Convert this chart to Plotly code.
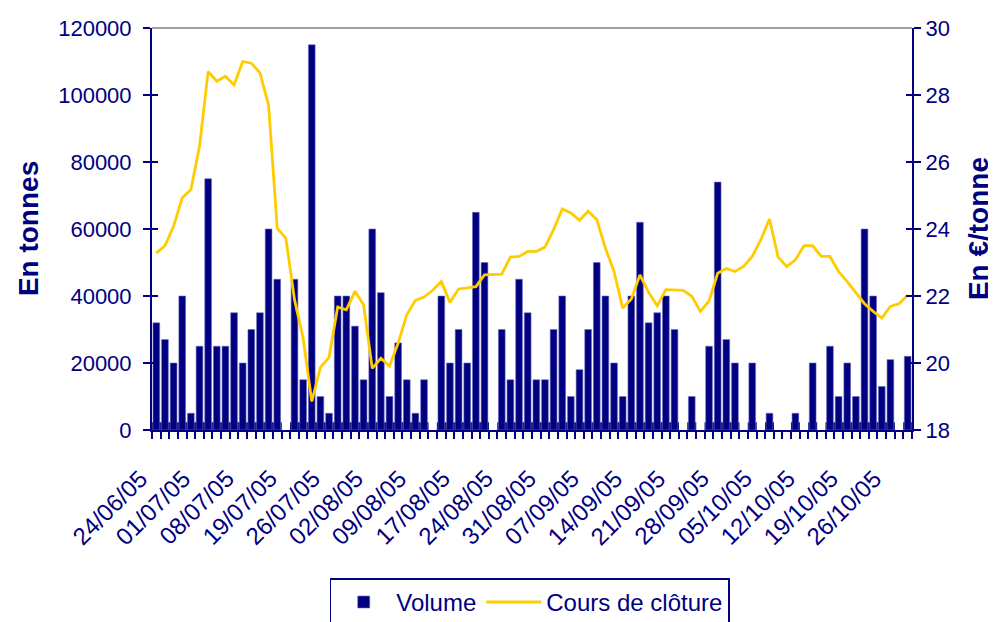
import plotly.graph_objects as go

# ---- data ----
volume = [32000, 27000, 20000, 40000, 5000, 25000, 75000, 25000, 25000, 35000,
          20000, 30000, 35000, 60000, 45000, None, 45000, 15000, 115000, 10000,
          5000, 40000, 40000, 31000, 15000, 60000, 41000, 10000, 26000, 15000,
          5000, 15000, None, 40000, 20000, 30000, 20000, 65000, 50000, None,
          30000, 15000, 45000, 35000, 15000, 15000, 30000, 40000, 10000, 18000,
          30000, 50000, 40000, 20000, 10000, 40000, 62000, 32000, 35000, 40000,
          30000, None, 10000, None, 25000, 74000, 27000, 20000, None, 20000,
          None, 5000, None, None, 5000, None, 20000, None, 25000, 10000,
          20000, 10000, 60000, 40000, 13000, 21000, None, 22000]

cours = [23.28, 23.50, 24.08, 24.93, 25.17, 26.47, 28.70, 28.41, 28.56, 28.30,
         29.00, 28.95, 28.66, 27.70, 24.02, 23.73, 21.89, 20.74, 18.85, 19.87,
         20.17, 21.67, 21.59, 22.14, 21.74, 19.84, 20.14, 19.91, 20.59, 21.44,
         21.87, 21.97, 22.17, 22.43, 21.81, 22.21, 22.24, 22.28, 22.63, 22.63,
         22.65, 23.16, 23.18, 23.33, 23.33, 23.46, 23.98, 24.60, 24.48, 24.26,
         24.53, 24.28, 23.43, 22.73, 21.64, 21.91, 22.63, 22.11, 21.71, 22.19,
         22.19, 22.17, 21.99, 21.54, 21.85, 22.68, 22.82, 22.73, 22.88, 23.18,
         23.68, 24.30, 23.16, 22.88, 23.08, 23.50, 23.50, 23.18, 23.18, 22.73,
         22.43, 22.11, 21.77, 21.54, 21.34, 21.69, 21.77, 22.02]

tick_labels = ["24/06/05", "01/07/05", "08/07/05", "19/07/05", "26/07/05", "02/08/05",
               "09/08/05", "17/08/05", "24/08/05", "31/08/05", "07/09/05", "14/09/05",
               "21/09/05", "28/09/05", "05/10/05", "12/10/05", "19/10/05", "26/10/05"]
label_step = 5

# ---- styling ----
NAVY = "#000080"
GOLD = "#FFCC00"
FONT = "Liberation Sans, Arial, sans-serif"
BASE_STUB = 2300      # dark foot drawn under each traded day
LABEL_SHIFT = -0.15   # rotated labels end slightly left of their day (in days)
LABEL_Y = -0.08       # top of the rotated labels' box, in plot fractions

days = list(range(len(volume)))
n_days = len(days)
label_days = days[::label_step][:len(tick_labels)]

fig = go.Figure()
fig.add_trace(go.Bar(x=days, y=[BASE_STUB if v is not None else None for v in volume],
                     width=1.04, marker=dict(color=NAVY, line=dict(width=0)),
                     showlegend=False, hoverinfo="skip", yaxis="y"))
fig.add_trace(go.Bar(x=days, y=volume, name="Volume", width=0.78,
                     marker=dict(color=NAVY, line=dict(width=0.6, color="#6f6fc0")),
                     yaxis="y"))
fig.add_trace(go.Scatter(x=days, y=cours, name="Cours de clôture", mode="lines",
                         line=dict(color=GOLD, width=2.8), yaxis="y2"))
# invisible traces to activate the overlay tick axes
fig.add_trace(go.Scatter(x=[0], y=[0], yaxis="y3", showlegend=False,
                         mode="markers", marker=dict(opacity=0), hoverinfo="skip"))
fig.add_trace(go.Scatter(x=[0], y=[18], yaxis="y4", showlegend=False,
                         mode="markers", marker=dict(opacity=0), hoverinfo="skip"))

tickfont = dict(family=FONT, size=22, color=NAVY)
xlabfont = dict(family=FONT, size=24, color=NAVY)
titlefont = dict(family=FONT, size=28, color=NAVY)

annotations = [
    dict(text="<b>En tonnes</b>", xref="paper", yref="paper", x=-0.163, y=0.5,
         textangle=-90, showarrow=False, font=titlefont,
         xanchor="center", yanchor="middle"),
    dict(text="<b>En €/tonne</b>", xref="paper", yref="paper", x=1.087, y=0.5,
         textangle=-90, showarrow=False, font=titlefont,
         xanchor="center", yanchor="middle"),
]
for d, lab in zip(label_days, tick_labels):
    annotations.append(dict(text=lab, x=(d + 0.5 + LABEL_SHIFT) / n_days, xref="paper",
                            y=LABEL_Y, yref="paper", textangle=-45, showarrow=False,
                            font=xlabfont, xanchor="right", yanchor="top"))

# the page body adds an 8px offset, so the figure is 8px smaller than the window
fig.update_layout(
    width=988, height=614,
    margin=dict(l=144, r=84, t=20, b=192),
    paper_bgcolor="white", plot_bgcolor="white",
    barmode="overlay",
    showlegend=True,
    legend=dict(orientation="h", x=0.497, xanchor="center", xref="paper",
                y=0.071, yanchor="top", yref="container",
                bordercolor=NAVY, borderwidth=1.5,
                font=dict(family=FONT, size=24, color=NAVY),
                itemwidth=55, tracegroupgap=0, bgcolor="white"),
    xaxis=dict(range=[-0.5, n_days - 0.5], tickmode="array",
               tickvals=label_days, showticklabels=False,
               ticks="", automargin=False,
               showline=True, linecolor=NAVY, linewidth=2, showgrid=False,
               zeroline=False,
               minor=dict(ticks="outside", tickmode="array",
                          tickvals=[d - 0.5 for d in days] + [n_days - 0.5],
                          ticklen=7, tickwidth=1.5, tickcolor=NAVY, showgrid=False)),
    yaxis=dict(range=[0, 120000], tick0=0, dtick=20000, tickformat="d",
               ticks="outside", ticklen=7, automargin=False, ticklabelstandoff=7,
               tickwidth=2, tickcolor=NAVY, tickfont=tickfont, showline=True,
               linecolor=NAVY, linewidth=2, showgrid=False, zeroline=False),
    yaxis2=dict(range=[18, 30], tick0=18, dtick=2, overlaying="y", side="right",
                ticks="outside", ticklen=7, tickwidth=2, tickcolor=NAVY, automargin=False,
                tickfont=tickfont, showline=True, linecolor=NAVY, linewidth=2,
                showgrid=False, zeroline=False, anchor="x"),
    yaxis3=dict(range=[0, 120000], dtick=20000, overlaying="y", side="left", anchor="x",
                ticks="inside", ticklen=6, tickwidth=2, tickcolor=NAVY, automargin=False,
                showticklabels=False, showgrid=False, zeroline=False, showline=False),
    yaxis4=dict(range=[18, 30], dtick=2, overlaying="y", side="right", anchor="x",
                ticks="inside", ticklen=6, tickwidth=2, tickcolor=NAVY, automargin=False,
                showticklabels=False, showgrid=False, zeroline=False, showline=False),
    shapes=[dict(type="line", xref="paper", yref="paper", x0=0, x1=1, y0=1, y1=1,
                 line=dict(color="#a0a0a0", width=2))],
    annotations=annotations,
)

fig.write_html("out.html")
